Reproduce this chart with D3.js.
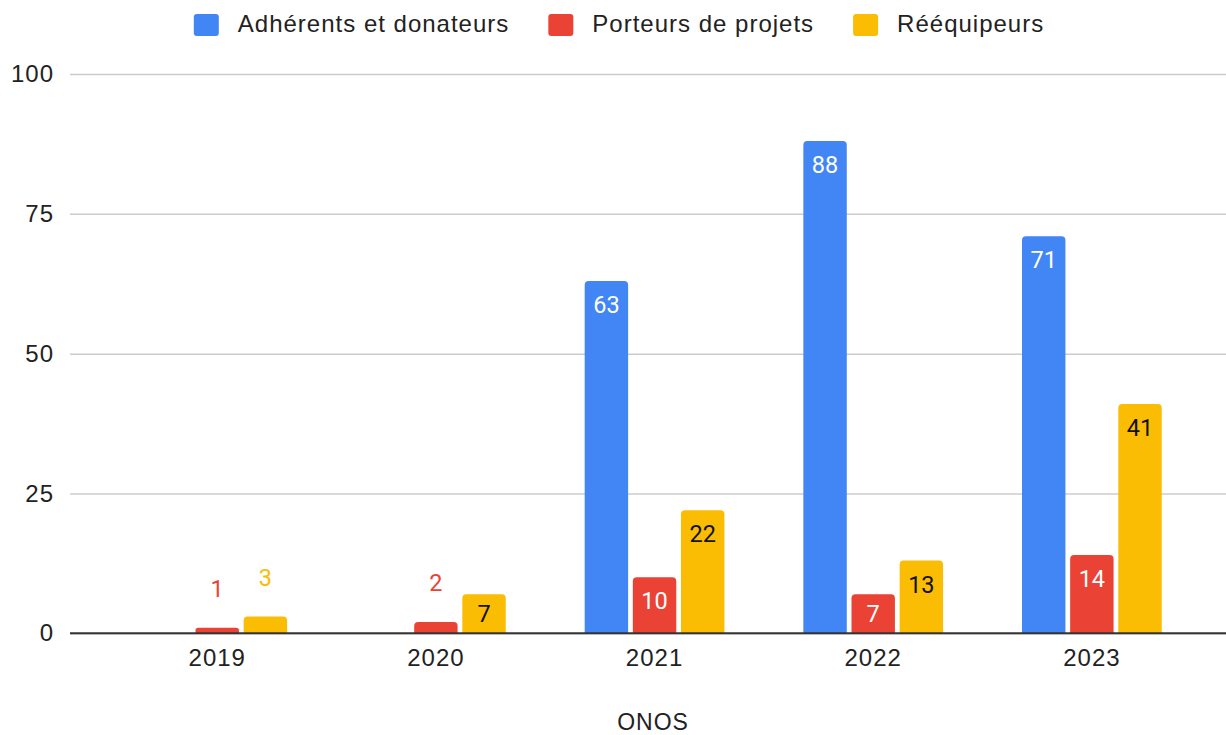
<!DOCTYPE html>
<html>
<head>
<meta charset="utf-8">
<script src="https://cdn.jsdelivr.net/npm/d3@7"></script>
<style>
  body { margin: 0; padding: 0; background: #fff; }
  svg { display: block; }
</style>
</head>
<body>
<script>
const years = ["2019", "2020", "2021", "2022", "2023"]
const seriesNames = ["Adhérents et donateurs", "Porteurs de projets", "Rééquipeurs"]
const adherents = [0, 0, 63, 88, 71]
const porteurs = [1, 2, 10, 7, 14]
const reequipeurs = [3, 7, 22, 13, 41]
const yTicks = [0, 25, 50, 75, 100]
const axisTitle = "ONOS"

const colors = ["#4285f4", "#ea4335", "#fbbc04"]
const labelInside = ["#fff", "#fff", "#111"]
const allSeries = [adherents, porteurs, reequipeurs]

const width = 1226
const height = 735
const axisFont = "'Liberation Sans', Arial, sans-serif"
const labelFont = "Roboto, 'Noto Sans', sans-serif"

const svg = d3.select("body").append("svg")
  .attr("width", width)
  .attr("height", height)

const y = d3.scaleLinear().domain([0, 100]).range([633.3, 74])

const x0 = d3.scaleBand().domain(years)
  .range([107.9, 1201.2])
  .paddingInner(0.361)
  .paddingOuter(0.1805)

const x1 = d3.scaleBand().domain(d3.range(3))
  .range([0, x0.bandwidth()])
  .paddingInner(0.098)

// gridlines + y labels
const yAxis = svg.append("g")
  .attr("transform", "translate(70,0)")
  .call(d3.axisLeft(y).tickValues(yTicks).tickSizeInner(-(width - 70)).tickSizeOuter(0).tickPadding(16))
yAxis.select(".domain").remove()
yAxis.selectAll(".tick line").attr("stroke", "#cccccc").attr("stroke-width", 1.5)
yAxis.selectAll(".tick text")
  .attr("fill", "#222")
  .style("font-family", axisFont)
  .style("font-size", "24px")
  .style("letter-spacing", "1px")

// x labels
const xAxis = svg.append("g")
  .attr("transform", `translate(0,${y(0)})`)
  .call(d3.axisBottom(x0).tickSize(0).tickPadding(16))
xAxis.select(".domain").remove()
xAxis.selectAll(".tick text")
  .attr("fill", "#222")
  .style("font-family", axisFont)
  .style("font-size", "24px")
  .style("letter-spacing", "1px")

// rounded-top bar path
function barPath(x, top, w, bottom) {
  const r = Math.min(4, (bottom - top) / 2, w / 2)
  return `M${x},${bottom}V${top + r}Q${x},${top} ${x + r},${top}H${x + w - r}Q${x + w},${top} ${x + w},${top + r}V${bottom}Z`
}

const cells = []
years.forEach((yr, i) => {
  allSeries.forEach((s, k) => {
    cells.push({ year: yr, k: k, value: s[i] })
  })
})
const shown = cells.filter(d => d.value > 0)

const bars = svg.append("g")
bars.selectAll("path")
  .data(shown)
  .join("path")
  .attr("fill", d => colors[d.k])
  .attr("d", d => barPath(x0(d.year) + x1(d.k), y(d.value), x1.bandwidth(), y(0)))

// the zero baseline
svg.append("line")
  .attr("x1", 70).attr("x2", width)
  .attr("y1", y(0)).attr("y2", y(0))
  .attr("stroke", "#333").attr("stroke-width", 2)

// value labels
svg.append("g").selectAll("text")
  .data(shown)
  .join("text")
  .attr("x", d => x0(d.year) + x1(d.k) + x1.bandwidth() / 2)
  .attr("y", d => {
    const top = y(d.value)
    const h = y(0) - top
    if (h < 35) return top - 31
    return Math.min(top + 32, top + h / 2 + 8.5)
  })
  .attr("text-anchor", "middle")
  .attr("fill", d => (y(0) - y(d.value) < 35) ? colors[d.k] : labelInside[d.k])
  .style("font-family", labelFont)
  .style("font-size", "23.5px")
  .text(d => d.value)

// legend
const legend = svg.append("g")
let lx = 0
seriesNames.forEach((name, k) => {
  const g = legend.append("g")
  g.append("rect")
    .attr("x", 0).attr("y", 14)
    .attr("width", 25).attr("height", 22)
    .attr("rx", 3)
    .attr("fill", colors[k])
  const t = g.append("text")
    .attr("x", 44).attr("y", 32)
    .attr("fill", "#222")
    .style("font-family", axisFont)
    .style("font-size", "24px")
    .style("letter-spacing", "1px")
    .text(name)
  const w = 44 + t.node().getComputedTextLength()
  g.attr("transform", `translate(${lx},0)`)
  lx += w + 39
})
const legendW = lx - 39
legend.attr("transform", `translate(${619 - legendW / 2},0)`)

// axis title
svg.append("text")
  .attr("x", 653).attr("y", 730)
  .attr("text-anchor", "middle")
  .attr("fill", "#222")
  .style("font-family", axisFont)
  .style("font-size", "23px")
  .style("letter-spacing", "1px")
  .text(axisTitle)
</script>
</body>
</html>
